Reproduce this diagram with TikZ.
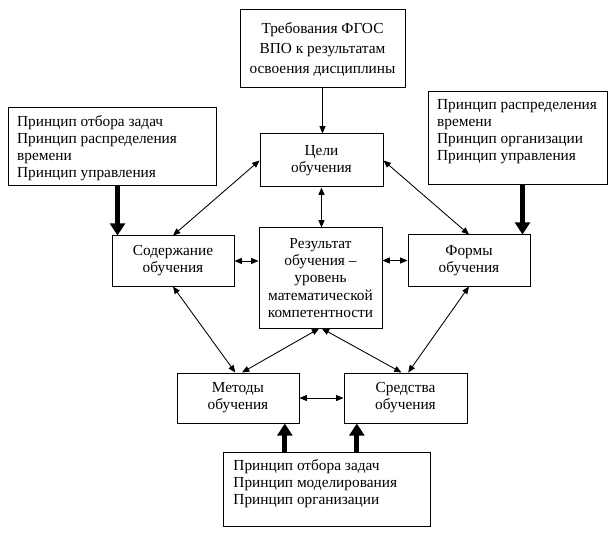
\documentclass[tikz,border=0pt]{standalone}
\usepackage{fontspec}
\setmainfont{Liberation Serif}
\newfontfamily\diagfont{Liberation Serif}
\usetikzlibrary{arrows.meta,calc}
\begin{document}
\begin{tikzpicture}[x=0.75pt,y=-0.75pt,
  wh/.style 2 args={minimum width=#1*0.75pt, minimum height=#2*0.75pt},
  box/.style={draw, line width=0.75pt, inner sep=0pt, align=center,
    font=\diagfont\fontsize{11.5}{12.8}\selectfont},
  listtext/.style={inner sep=0pt, align=left, anchor=north west,
    font=\diagfont\fontsize{11.5}{12.6}\selectfont},
  arr/.style={line width=0.65pt, -{Triangle[length=5.5pt,width=4.5pt]}},
  darr/.style={line width=0.65pt, {Triangle[length=5.5pt,width=4.5pt]}-{Triangle[length=5.5pt,width=4.5pt]}},
  fat/.style={line width=3.6pt, -{Triangle[length=9pt,width=11pt]}}
]
\useasboundingbox (0,0) rectangle (616,534);

% boxes
\node[box, wh={165}{78}, font=\diagfont\fontsize{11.5}{15}\selectfont] (req) at (322.5,49)
  {Требования ФГОС\\ВПО к результатам\\освоения дисциплины};
\node[box, wh={123}{53}] (goal) at (321.5,160.5) {Цели\\обучения};
\node[box, wh={208}{78}] (lp) at (112,147) {};
\node[listtext] (lpt) at ([xshift=7pt,yshift=-6pt]lp.north west)
  {Принцип отбора задач\\Принцип распределения\\времени\\Принцип управления};
\node[box, wh={179}{93}] (rp) at (517.5,138.5) {};
\node[listtext] (rpt) at ([xshift=7pt,yshift=-6pt]rp.north west)
  {Принцип распределения\\времени\\Принцип организации\\Принцип управления};
\node[box, wh={122}{50}] (cont) at (173,261) {Содержание\\обучения};
\node[box, wh={123}{100}] (res) at (320.5,278)
  {Результат\\обучения –\\уровень\\математической\\компетентности};
\node[box, wh={122}{51}] (form) at (469,260.5) {Формы\\обучения};
\node[box, wh={122}{50}] (meth) at (238,398) {Методы\\обучения};
\node[box, wh={123}{50}] (mean) at (405.5,398) {Средства\\обучения};
\node[box, wh={207}{74}] (bp) at (326.5,489) {};
\node[listtext] (bpt) at ([xshift=8pt,yshift=-6pt]bp.north west)
  {Принцип отбора задач\\Принцип моделирования\\Принцип организации};

% thin connectors
\draw[arr] (req.south) -- (req.south |- goal.north);
\draw[darr] (goal.south) -- (goal.south |- res.north);
\draw[darr] (goal.west) -- (cont.north);
\draw[darr] (goal.east) -- (form.north);
\draw[darr] (cont.east) -- (cont.east -| res.west);
\draw[darr] (res.east |- form.west) -- (form.west);
\draw[darr] (cont.south) -- ([xshift=-2pt]meth.north);
\draw[darr] ([xshift=-1pt]res.south) -- ([xshift=3pt]meth.north);
\draw[darr] ([xshift=1pt]res.south) -- ([xshift=-3pt]mean.north);
\draw[darr] (form.south) -- ([xshift=2pt]mean.north);
\draw[darr] (meth.east) -- (mean.west);

% thick connectors
\coordinate (lpA) at ([xshift=4.5pt]cont.north west);
\draw[fat] (lpA |- lp.south) -- (lpA);
\coordinate (rpA) at ([xshift=-6pt]form.north east);
\draw[fat] (rpA |- rp.south) -- (rpA);
\coordinate (bpA) at ([xshift=-11pt]meth.south east);
\draw[fat] (bpA |- bp.north) -- (bpA);
\coordinate (bpB) at ([xshift=10pt]mean.south west);
\draw[fat] (bpB |- bp.north) -- (bpB);
\end{tikzpicture}
\end{document}
